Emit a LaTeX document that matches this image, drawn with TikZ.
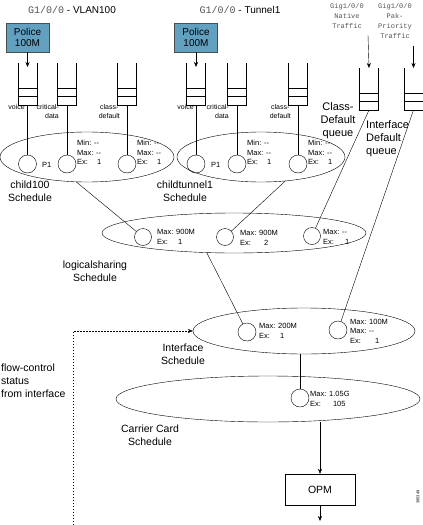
\documentclass[tikz,border=0pt]{standalone}
\usepackage{fontspec}
\setmainfont{Liberation Sans}
\setmonofont{Liberation Mono}
\definecolor{polblue}{RGB}{98,160,192}
\definecolor{monogray}{RGB}{85,85,85}
\usetikzlibrary{arrows.meta,shapes.geometric}

\tikzset{
  queue/.pic={
    \draw[line width=0.4pt] (-9.5,-42) -- (-9.5,0) -- (9.5,0) -- (9.5,-42)
      (-9.5,-8.5) -- (9.5,-8.5) (-9.5,-17) -- (9.5,-17);
    \coordinate (-bot) at (0,0);
    \coordinate (-top) at (0,-42);
    \coordinate (-in) at (0,-38);
  }
}

\begin{document}
\begin{tikzpicture}[x=1pt,y=-1pt,line width=0.4pt,
  ttl/.style={font=\fontsize{10}{12}\selectfont,inner sep=0pt},
  police/.style={draw=black!70,fill=polblue,minimum width=43,minimum height=29,
    inner sep=0pt,align=center,font=\fontsize{10}{11.5}\selectfont},
  qlabel/.style={font=\fontsize{7}{9}\selectfont,inner sep=0pt},
  qcirc/.style={draw,circle,minimum size=18,inner sep=0pt},
  qtext/.style={font=\fontsize{7.5}{9.5}\selectfont,inner sep=0pt,align=left},
  sched/.style={draw,ellipse,inner sep=0pt},
  schlabel/.style={font=\fontsize{10.5}{13}\selectfont,inner sep=0pt,align=center},
  mono/.style={font=\ttfamily\fontsize{7}{10}\selectfont,text=monogray,inner sep=0pt,align=center},
  biglabel/.style={font=\fontsize{11}{13}\selectfont,inner sep=0pt},
  arr/.style={-{Stealth[length=5pt,width=4pt]}}
]
  \useasboundingbox (0,0) rectangle (423,525);

  % VLAN100 (left)
  \node[ttl] (ttl100) at (72,10) {{\ttfamily\color{monogray}G1/0/0} - VLAN100};
  \node[police] (pol100) at (27.5,37.5) {Police\\100M};
  \pic (q100v) at (27.5,105) {queue};
  \pic (q100c) at (67,105) {queue};
  \pic (q100d) at (127,105) {queue};
  \draw[arr] (pol100) -- (q100v-in);
  \node[qlabel,anchor=north east] (l100v) at (25,104) {voice};
  \node[qlabel,anchor=north east,align=right] (l100c) at (59,104) {critical-\\data};
  \node[qlabel,anchor=north east,align=center] (l100d) at (120,104) {class-\\default};

  \node[sched,minimum width=174,minimum height=50] (s100) at (87,157) {};
  \node[qcirc] (c100v) at (27.5,164) {};
  \node[qcirc] (c100c) at (67,164) {};
  \node[qcirc] (c100d) at (127,164) {};
  \node[qtext,anchor=west] (t100v) at (42,165) {P1};
  \node[qtext,anchor=north west] (t100c) at (77,140) {Min: -{}-\\Max: -{}-\\Ex:\hspace{9pt}1};
  \node[qtext,anchor=north west] (t100d) at (137,140) {Min: -{}-\\Max: -{}-\\Ex:\hspace{9pt}1};
  \node[schlabel] (l100) at (30,191) {child100\\Schedule};
  \draw (q100v-bot) -- (c100v);
  \draw (q100c-bot) -- (c100c);
  \draw (q100d-bot) -- (c100d);

  % Tunnel1 (middle)
  \node[ttl] (ttltun) at (240,10) {{\ttfamily\color{monogray}G1/0/0} - Tunnel1};
  \node[police] (poltun) at (196,37.5) {Police\\100M};
  \pic (qtunv) at (196,105) {queue};
  \pic (qtunc) at (237,105) {queue};
  \pic (qtund) at (298,105) {queue};
  \draw[arr] (poltun) -- (qtunv-in);
  \node[qlabel,anchor=north east] (ltunv) at (194,104) {voice};
  \node[qlabel,anchor=north east,align=right] (ltunc) at (229,104) {critical-\\data};
  \node[qlabel,anchor=north east,align=center] (ltund) at (291,104) {class-\\default};

  \node[sched,minimum width=168,minimum height=50] (stun) at (261,157) {};
  \node[qcirc] (ctunv) at (196,164) {};
  \node[qcirc] (ctunc) at (237,164) {};
  \node[qcirc] (ctund) at (298,164) {};
  \node[qtext,anchor=west] (ttunv) at (211,165) {P1};
  \node[qtext,anchor=north west] (ttunc) at (247,140) {Min: -{}-\\Max: -{}-\\Ex:\hspace{9pt}1};
  \node[qtext,anchor=north west] (ttund) at (308,140) {Min: -{}-\\Max: -{}-\\Ex:\hspace{9pt}1};
  \node[schlabel] (ltun) at (185,191) {childtunnel1\\Schedule};
  \draw (qtunv-bot) -- (ctunv);
  \draw (qtunc-bot) -- (ctunc);
  \draw (qtund-bot) -- (ctund);

  % Gig1/0/0 traffic (right)
  \node[mono] (nat) at (347,16) {Gig1/0/0\\Native\\Traffic};
  \node[mono] (pak) at (395,21) {Gig1/0/0\\Pak-\\Priority\\Traffic};
  \coordinate (natsrc) at (368,35);
  \coordinate (paksrc) at (413.5,46);
  \pic (qcd) at (369,110) {queue};
  \pic (qif) at (413.5,110) {queue};
  \draw[arr] (natsrc) -- (qcd-top);
  \draw[arr] (paksrc) -- (qif-top);
  \node[biglabel,align=center] (lcd) at (338,120.5) {Class-\\Default\\queue};
  \node[biglabel,align=left,anchor=west] (lif) at (366,138.5) {Interface\\Default\\queue};

  % logicalsharing
  \node[sched,minimum width=264,minimum height=40] (slog) at (234,233) {};
  \node[qcirc,minimum size=17] (lg1) at (143,237) {};
  \node[qcirc,minimum size=17] (lg2) at (225,237) {};
  \node[qcirc,minimum size=17] (lg3) at (312,236) {};
  \node[qtext,anchor=west] (tlg1) at (157,237) {Max: 900M\\Ex:\hspace{10pt}1};
  \node[qtext,anchor=west] (tlg2) at (240,238) {Max: 900M\\Ex:\hspace{13pt}2};
  \node[qtext,anchor=west] (tlg3) at (323,237) {Max: -{}-\\Ex:\hspace{11pt}1};
  \node[schlabel] (llog) at (95,271.5) {logicalsharing\\Schedule};
  \draw (s100.-113) -- (lg1);
  \draw (stun.-45) -- (lg2);
  \draw (qcd-bot) -- (lg3);

  % Interface
  \node[sched,minimum width=222,minimum height=46] (sif) at (304,331) {};
  \node[qcirc] (if1) at (247,332) {};
  \node[qcirc] (if2) at (338,330) {};
  \node[qtext,anchor=west] (tif1) at (259,331) {Max: 200M\\Ex:\hspace{10pt}1};
  \node[qtext,anchor=west] (tif2) at (350,331) {Max: 100M\\Max: -{}-\\Ex:\hspace{14pt}1};
  \node[schlabel] (lif) at (183,354) {Interface\\Schedule};
  \draw (slog.-144) -- (if1);
  \draw (qif-bot) -- (if2);

  % flow control
  \coordinate (fcsrc) at (73,525);
  \draw[arr,dash pattern=on 1.5pt off 1.5pt] (fcsrc) |- (sif.west);
  \node[schlabel,align=left,anchor=west] (lfc) at (1,380.5) {flow-control\\status\\from interface};

  % Carrier Card
  \node[sched,minimum width=304,minimum height=46] (scc) at (268,399) {};
  \node[qcirc] (cc1) at (300,398) {};
  \node[qtext,anchor=west] (tcc1) at (310,399) {Max: 1.05G\\Ex:\hspace{12pt}105};
  \node[schlabel] (lcc) at (150,435) {Carrier Card\\Schedule};
  \draw (cc1 |- sif.south) -- (cc1);

  % OPM
  \node[draw,minimum width=70,minimum height=31,inner sep=0pt,
    font=\fontsize{10.5}{12}\selectfont] (opm) at (320,489.5) {OPM};
  \coordinate (opmout) at (320,521);
  \draw[arr] (opm |- scc.south) -- (opm);
  \draw[arr] (opm) -- (opmout);

  \node[font=\fontsize{4}{5}\selectfont,rotate=90,inner sep=0pt] (figid) at (418,497) {385349};
\end{tikzpicture}
\end{document}
